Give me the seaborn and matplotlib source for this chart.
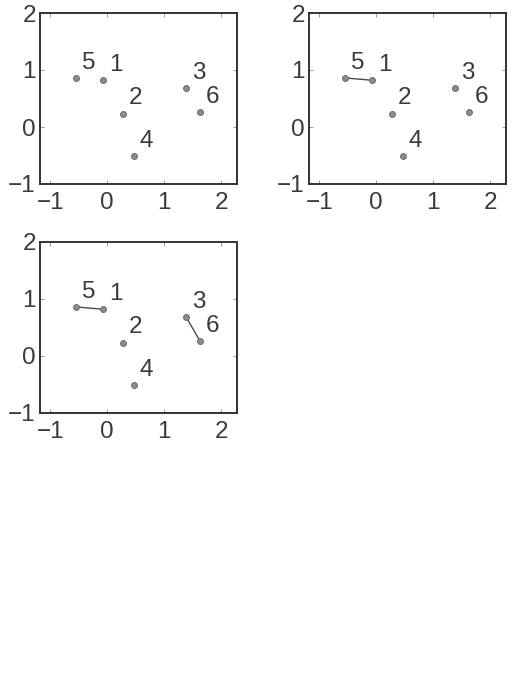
import matplotlib
matplotlib.use("Agg")
import matplotlib.pyplot as plt
import seaborn as sns
import pandas as pd

sns.set_style("white")
plt.rcParams['font.family'] = ['Liberation Sans', 'DejaVu Sans']

labels = ["1", "2", "3", "4", "5", "6"]
xs = [-0.07, 0.28, 1.39, 0.47, -0.54, 1.63]
ys = [0.82, 0.23, 0.68, -0.51, 0.86, 0.26]
# links per panel (pairs of point labels)
panel_links = [[], [("5", "1")], [("5", "1"), ("3", "6")]]

xticks = [-1, 0, 1, 2]
yticks = [-1, 0, 1, 2]

df = pd.DataFrame({"label": labels, "x": xs, "y": ys})

fig = plt.figure(figsize=(5.14, 6.76), dpi=100)
W, H = 514, 676
boxes = [(40, 13), (309, 13), (40, 242)]
aw, ah = 197, 171

pt_color = "#8c8c8c"
edge_color = "#6a6a6a"
txt_color = "#3a3a3a"

for (lx, ty), links in zip(boxes, panel_links):
    ax = fig.add_axes([lx / W, 1 - (ty + ah) / H, aw / W, ah / H])
    for a, b in links:
        pa = df[df.label == a].iloc[0]
        pb = df[df.label == b].iloc[0]
        seg = pd.DataFrame({"x": [pa.x, pb.x], "y": [pa.y, pb.y]})
        sns.lineplot(data=seg, x="x", y="y", ax=ax, color="#4a4a4a",
                     linewidth=1.0, sort=False, estimator=None)
    sns.scatterplot(data=df, x="x", y="y", ax=ax, s=18, color=pt_color,
                    edgecolor=edge_color, linewidth=0.7, zorder=3)
    for _, r in df.iterrows():
        ax.text(r.x + 0.22, r.y + 0.27, r.label, fontsize=17.5,
                color=txt_color, ha="center", va="center")
    ax.set_xlim(-1.18, 2.28)
    ax.set_ylim(-1, 2)
    ax.set_xticks(xticks)
    ax.set_yticks(yticks)
    ax.set_xticklabels(["\u22121", "0", "1", "2"])
    ax.set_yticklabels(["\u22121", "0", "1", "2"])
    ax.set_xlabel("")
    ax.set_ylabel("")
    ax.tick_params(axis="both", which="both", direction="in", length=3,
                   width=0.6, color="#888888", labelsize=17.5,
                   labelcolor=txt_color, top=True, right=True, bottom=True,
                   left=True, pad=3)
    ax.tick_params(axis="x", pad=6)
    for sp in ax.spines.values():
        sp.set_visible(True)
        sp.set_color("#333333")
        sp.set_linewidth(1.4)

fig.savefig("out.png", dpi=100, facecolor="white")
